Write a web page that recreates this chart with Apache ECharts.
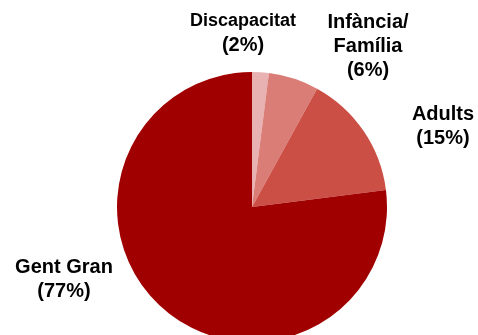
<!DOCTYPE html>
<html>
<head>
<meta charset="utf-8">
<script src="https://cdn.jsdelivr.net/npm/echarts@6/dist/echarts.min.js"></script>
<style>html,body{margin:0;padding:0;background:#fff;}#c{width:478px;height:335px;}</style>
</head>
<body>
<div id="c"></div>
<script>
const categories = ['Discapacitat', 'Infància/\nFamília', 'Adults', 'Gent Gran'];
const values = [2, 6, 15, 77];
const colors = ['#e8b2b2', '#da7d76', '#cb4f45', '#a00000'];
const labelPos = [[243, 9], [368, 10], [443, 102], [64, 255]];

const chart = echarts.init(document.getElementById('c'));
chart.setOption({
  animation: false,
  series: [{
    type: 'pie',
    center: [252, 207],
    radius: [0, 135],
    startAngle: 90,
    clockwise: true,
    data: categories.map((c, i) => ({
      name: c, value: values[i],
      itemStyle: { color: colors[i] }
    })),
    label: {
      show: true,
      overflow: 'none',
      formatter: p => (p.dataIndex === 0 ? '{s|' + p.name + '}' : '{b|' + p.name + '}') + '\n{b|(' + p.value + '%)}',
      align: 'center',
      rich: {
        s: { fontFamily: 'Liberation Sans, Arial', fontWeight: 'bold', fontSize: 18, color: '#000', lineHeight: 24, align: 'center' },
        b: { fontFamily: 'Liberation Sans, Arial', fontWeight: 'bold', fontSize: 20, color: '#000', lineHeight: 24, align: 'center' }
      }
    },
    labelLine: { show: false },
    labelLayout: p => ({ x: labelPos[p.dataIndex][0], y: labelPos[p.dataIndex][1], align: 'center', verticalAlign: 'top' }),
    emphasis: { disabled: true }
  }]
});
</script>
</body>
</html>
